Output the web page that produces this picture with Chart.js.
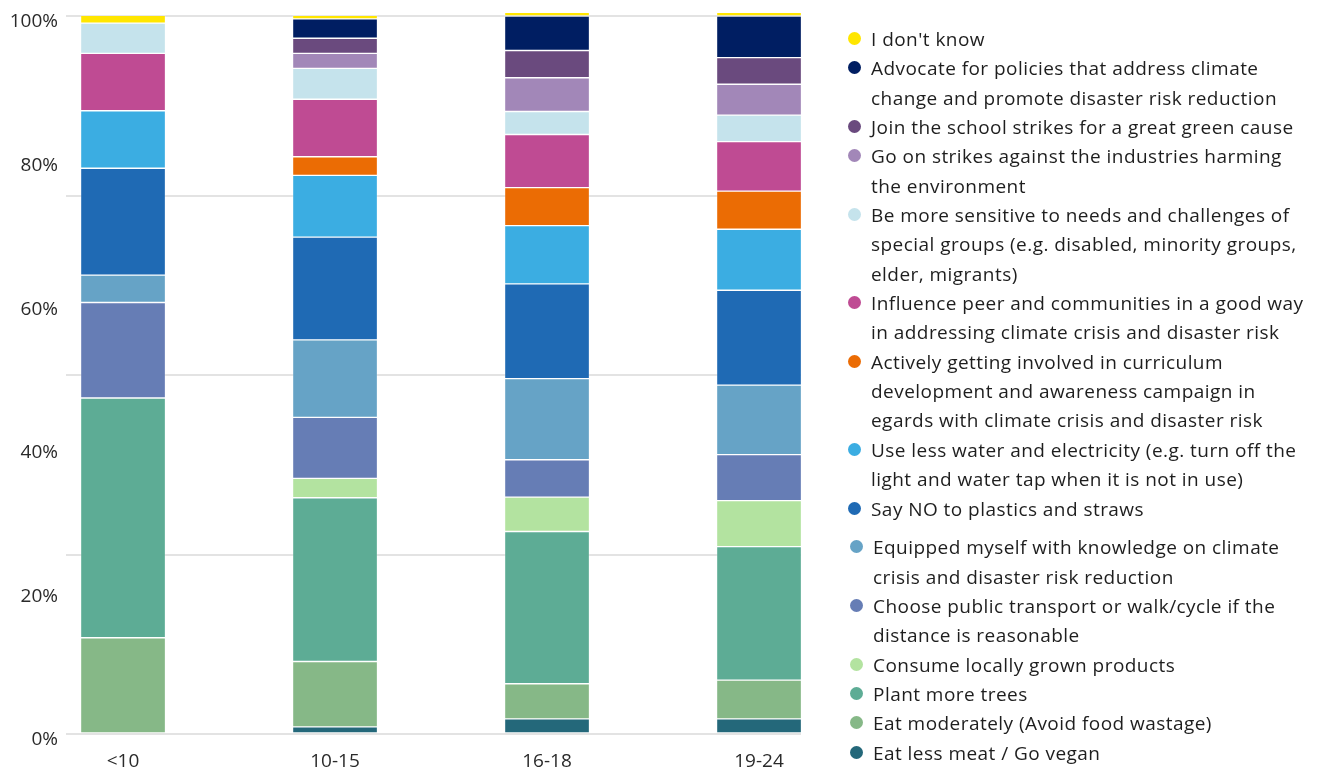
<!DOCTYPE html>
<html>
<head>
<meta charset="utf-8">
<script src="https://cdn.jsdelivr.net/npm/chart.js@4/dist/chart.umd.min.js"></script>
<style>
  html, body { margin: 0; padding: 0; background: #ffffff; }
  #wrap { position: relative; width: 1322px; height: 771px; }
  #wrap canvas { position: absolute; left: 0; top: 0; }
  #legend {
    position: absolute; left: 848px; top: 25px; width: 474px;
    font-family: "Open Sans", sans-serif; font-size: 19px; letter-spacing: 0.45px; color: #1e1e1e;
    line-height: 29.35px; margin: 0; padding: 0; list-style: none;
  }
  #legend li { position: relative; padding-left: 23px; white-space: pre; }
  #legend li .dot {
    position: absolute; left: 0; top: 7px; width: 13px; height: 13px; border-radius: 50%;
  }
  #legend li.lower { margin-left: 2px; }
  #legend li.gap { margin-top: 9.5px; }
</style>
</head>
<body>
<div id="wrap">
  <canvas id="chart" width="1322" height="771"></canvas>
  <ul id="legend"></ul>
</div>
<script>
// Age groups on the x axis
const categories = ['<10', '10-15', '16-18', '19-24'];

// Share of answers per age group (%), listed from the bottom of each stack upwards
const eatLessMeat     = [0,    1.0,  2.1,  2.1];
const eatModerately   = [13.4, 9.1,  4.9,  5.4];
const plantTrees      = [33.4, 22.8, 21.2, 18.6];
const consumeLocal    = [0,    2.7,  4.8,  6.4];
const publicTransport = [13.3, 8.5,  5.2,  6.4];
const equipped        = [3.8,  10.8, 11.3, 9.7];
const sayNoPlastics   = [14.9, 14.3, 13.2, 13.2];
const lessWater       = [8.0,  8.6,  8.1,  8.5];
const curriculum      = [0,    2.6,  5.3,  5.3];
const influencePeers  = [8.0,  8.0,  7.4,  6.9];
const sensitiveGroups = [4.2,  4.3,  3.2,  3.7];
const strikeIndustry  = [0,    2.1,  4.7,  4.3];
const schoolStrikes   = [0,    2.1,  3.8,  3.7];
const advocatePolicy  = [0,    2.7,  4.8,  5.8];
const dontKnow        = [1.1,  0.5,  0.5,  0.5];

// Axis ticks: labelled every 20 %, grid lines every 25 %
const yTickValues = [0, 20, 40, 60, 80, 100];
const yGridValues = [0, 25, 50, 75, 100];

const series = [
  { name: 'Eat less meat / Go vegan', values: eatLessMeat, color: '#24687a' },
  { name: 'Eat moderately (Avoid food wastage)', values: eatModerately, color: '#86b887' },
  { name: 'Plant more trees', values: plantTrees, color: '#5dac95' },
  { name: 'Consume locally grown products', values: consumeLocal, color: '#b3e3a0' },
  { name: 'Choose public transport or walk/cycle if the\ndistance is reasonable', values: publicTransport, color: '#667db5' },
  { name: 'Equipped myself with knowledge on climate\ncrisis and disaster risk reduction', values: equipped, color: '#66a3c6' },
  { name: 'Say NO to plastics and straws', values: sayNoPlastics, color: '#1f6ab4' },
  { name: 'Use less water and electricity (e.g. turn off the\nlight and water tap when it is not in use)', values: lessWater, color: '#3bade2' },
  { name: 'Actively getting involved in curriculum\ndevelopment and awareness campaign in\negards with climate crisis and disaster risk', values: curriculum, color: '#eb6c04' },
  { name: 'Influence peer and communities in a good way\nin addressing climate crisis and disaster risk', values: influencePeers, color: '#bf4b93' },
  { name: 'Be more sensitive to needs and challenges of\nspecial groups (e.g. disabled, minority groups,\nelder, migrants)', values: sensitiveGroups, color: '#c5e3ec' },
  { name: 'Go on strikes against the industries harming\nthe environment', values: strikeIndustry, color: '#a287b8' },
  { name: 'Join the school strikes for a great green cause', values: schoolStrikes, color: '#6a4a7e' },
  { name: 'Advocate for policies that address climate\nchange and promote disaster risk reduction', values: advocatePolicy, color: '#001e62' },
  { name: "I don't know", values: dontKnow, color: '#ffe600' }
];

const datasets = series.map(s => ({
  label: s.name,
  data: s.values.map((v, i) => ({ x: i, y: v })),
  backgroundColor: s.color,
  borderColor: 'rgba(255,255,255,0.2)',
  borderWidth: 1,
  borderSkipped: false,
  barThickness: 85,
  clip: false
}));

const tickFont = { family: '"Open Sans", sans-serif', size: 19 };

const chart = new Chart(document.getElementById('chart'), {
  type: 'bar',
  data: { datasets },
  options: {
    responsive: false,
    animation: false,
    layout: { padding: { top: 16, right: 521, left: 0, bottom: 0 } },
    plugins: { legend: { display: false }, tooltip: { enabled: false } },
    scales: {
      x: {
        type: 'linear',
        stacked: true,
        offset: false,
        min: -0.269,
        max: 3.198,
        grid: { display: false, drawTicks: false },
        border: { display: false },
        afterBuildTicks: scale => { scale.ticks = categories.map((c, i) => ({ value: i })); },
        afterFit: scale => { scale.height = 37; },
        ticks: {
          autoSkip: false,
          maxRotation: 0,
          padding: 16,
          color: '#2a2a2a',
          font: tickFont,
          callback: v => categories[v]
        }
      },
      y: {
        stacked: true,
        min: 0,
        max: 100,
        border: { display: false },
        afterBuildTicks: scale => {
          const vals = Array.from(new Set([...yTickValues, ...yGridValues])).sort((a, b) => a - b);
          scale.ticks = vals.map(v => ({ value: v }));
        },
        afterFit: scale => { scale.width = 66; scale.paddingTop = 0; scale.paddingBottom = 0; },
        grid: {
          drawTicks: false,
          lineWidth: 2,
          color: ctx => (ctx.tick && yGridValues.includes(ctx.tick.value)) ? '#e3e3e3' : 'rgba(0,0,0,0)'
        },
        ticks: {
          autoSkip: false,
          padding: 8,
          labelOffset: 6,
          color: '#2a2a2a',
          font: tickFont,
          callback: v => yTickValues.includes(v) ? v + '%' : ''
        }
      }
    }
  }
});

// Legend listed from the top of the stack down
const legendEl = document.getElementById('legend');
const lowerStart = 'Equipped';
let lower = false;
chart.data.datasets.slice().reverse().forEach(ds => {
  const li = document.createElement('li');
  if (ds.label.startsWith(lowerStart)) { lower = true; li.classList.add('gap'); }
  if (lower) li.classList.add('lower');
  const dot = document.createElement('span');
  dot.className = 'dot';
  dot.style.background = ds.backgroundColor;
  li.appendChild(dot);
  li.appendChild(document.createTextNode(ds.label));
  legendEl.appendChild(li);
});
</script>
</body>
</html>
